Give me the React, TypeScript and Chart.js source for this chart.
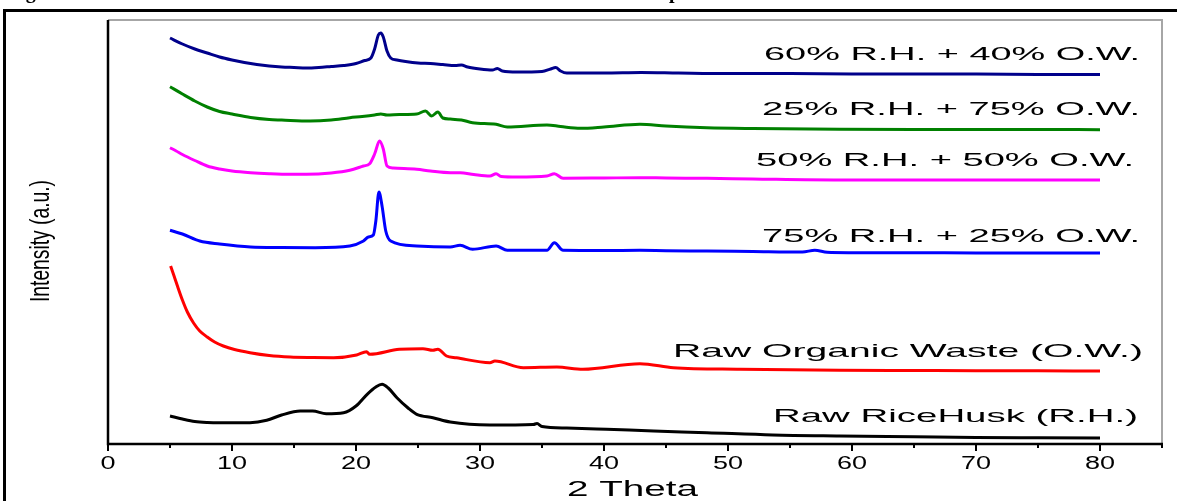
import React, { useEffect, useRef } from "react";
import { Chart, registerables } from "chart.js";

Chart.register(...registerables);

// ---------- DATA (2θ in degrees, intensity in arbitrary units) ----------
const X_TICKS = [0, 10, 20, 30, 40, 50, 60, 70, 80];
const X_TITLE = "2 Theta";
const Y_TITLE = "Intensity (a.u.)";

const SERIES_NAMES = [
  "60% R.H. + 40% O.W.",
  "25% R.H. + 75% O.W.",
  "50% R.H. + 50% O.W.",
  "75% R.H. + 25% O.W.",
  "Raw Organic Waste (O.W.)",
  "Raw RiceHusk (R.H.)",
];
const SERIES_COLORS = ["#00008B", "#008000", "#FF00FF", "#0000FF", "#FF0000", "#000000"];

const theta60 = [5, 6, 7, 8, 9, 10, 11, 12, 13, 14, 15, 16, 17, 18, 19, 20, 20.7, 21.2, 21.5, 21.8, 22.0, 22.2, 22.5, 22.8, 23.3, 24, 25, 26, 27, 28, 28.5, 29, 30, 31, 31.4, 31.8, 33, 35, 35.7, 36.1, 36.5, 37, 40, 43, 46, 50, 55, 60, 65, 70, 75, 80];
const int60 = [406, 400, 395, 391, 387, 384, 381.5, 379.5, 378, 377, 376.5, 376, 376.5, 377.5, 378.5, 380.5, 383.5, 386, 395, 409, 411, 407, 393, 386, 384, 382.5, 381, 380.5, 379.5, 378.5, 379, 377, 375, 374, 375.5, 373, 372, 372.5, 375, 376.5, 373, 371, 371, 371.5, 371, 370.5, 370.5, 370, 370, 370, 369.5, 369.5];

const theta25 = [5, 6, 7, 8, 9, 10, 11.5, 13, 14, 16.3, 18, 19.5, 20.5, 21.5, 22, 22.5, 23.5, 24.9, 25.6, 26.1, 26.6, 27.0, 27.6, 28.5, 29.4, 31.3, 32.2, 35.4, 36.5, 38.1, 40, 42.9, 45, 48.3, 52, 59, 65, 70, 75, 80];
const int25 = [357.3, 350, 343, 337, 332.5, 330, 326.5, 324.5, 324, 323, 324, 326.3, 327.5, 329, 330, 329, 329.5, 330, 333, 328, 332, 326, 325, 324, 321.3, 319.7, 317, 319, 317.5, 315.7, 317, 319.7, 318, 316.3, 315.5, 314.7, 314.5, 314.5, 314.5, 314.3];

const theta50 = [5, 5.5, 6, 7, 8, 9, 10, 11.5, 13, 14.7, 16, 18, 19.5, 20.6, 21.1, 21.5, 21.9, 22.2, 22.5, 23, 24.9, 26, 27.6, 28.4, 29.5, 30.8, 31.3, 31.7, 33, 35.4, 36.0, 36.7, 40, 42.9, 45, 48.3, 52, 59, 65, 70, 75, 80];
const int50 = [296.3, 293, 289.5, 283.5, 278, 275, 273, 271.3, 270.3, 269.7, 269.7, 271, 273.7, 278, 280.3, 290, 303, 295, 278, 276, 274.7, 273, 271.3, 271.3, 269.5, 268, 270.3, 267.5, 267, 268, 270.3, 265.7, 266, 266.3, 266, 265.7, 265, 264, 264, 264, 264, 264];

const theta75 = [5, 6, 7.4, 9, 11.5, 14, 16.7, 19.5, 20.6, 21.0, 21.4, 21.6, 21.85, 22.1, 22.4, 22.8, 24.9, 27.6, 28.4, 29.4, 31.3, 32.2, 35.4, 36.0, 36.7, 40, 42.9, 45, 48.3, 52, 56, 57, 58, 60, 65, 70, 75, 80];
const int75 = [213.7, 210, 203, 200, 197, 196.5, 196.3, 198, 203, 207, 209, 223, 252, 238, 213, 203, 198, 197, 198.7, 194.7, 198, 193.7, 193.7, 201.3, 193.7, 193.5, 193.7, 193.3, 193, 192.5, 192, 193.7, 191.7, 191.3, 191.2, 191.1, 191, 191];

const thetaOW = [5.05, 5.3, 5.6, 6.0, 6.4, 6.9, 7.4, 8, 8.6, 9.3, 10.2, 11.45, 13, 14.7, 16.5, 18.2, 20.05, 20.85, 21.1, 23.5, 25.4, 26.2, 26.6, 27.3, 28.1, 30.8, 31.2, 33.5, 36.2, 38.3, 42.9, 45.6, 51, 59, 65, 70, 75, 80];
const intOW = [178, 169, 158, 144, 132, 121, 113, 107, 102, 98, 94.5, 91.3, 88.5, 87, 86.5, 86.3, 89, 92.3, 89.7, 94.7, 95.3, 93.7, 94.7, 88, 86.3, 81.3, 83, 76.3, 77, 74.7, 80.3, 76.3, 74.7, 73.7, 73.5, 73.3, 73.2, 73];

const thetaRH = [5, 6, 7, 8, 9, 11.45, 12.8, 14, 15.5, 16.5, 17.6, 19, 20, 20.9, 21.6, 22.1, 22.6, 23.3, 24.2, 24.9, 26.2, 27.6, 30.8, 34.3, 34.6, 35, 37, 40.2, 44, 48.3, 53.6, 59, 65, 70, 75, 80];
const intRH = [28, 25, 22.5, 21.5, 21.2, 21.3, 23.7, 29, 33, 33, 30.3, 31.3, 38, 49.7, 57, 59.7, 56, 46.3, 36, 29.7, 26.3, 22, 19, 19.5, 20.5, 17.5, 16, 14.7, 13, 11.3, 9, 8, 7.2, 6.5, 6.2, 6];

const SERIES_X = [theta60, theta25, theta50, theta75, thetaOW, thetaRH];
const SERIES_Y = [int60, int25, int50, int75, intOW, intRH];

// ---------- label layout (pixels) ----------
const LABEL_LAYOUT = [
  { left: 764, right: 1140, y: 55 },
  { left: 762, right: 1140, y: 110 },
  { left: 756, right: 1134, y: 161 },
  { left: 762, right: 1140, y: 237 },
  { left: 673, right: 1143, y: 352 },
  { left: 773, right: 1138, y: 417 },
];

const FONT = "Arial, 'Liberation Sans', sans-serif";

function stretchText(ctx: CanvasRenderingContext2D, text: string, left: number, y: number, font: string, width: number) {
  ctx.save();
  ctx.font = font;
  ctx.textAlign = "left";
  ctx.textBaseline = "middle";
  const w = ctx.measureText(text).width;
  ctx.translate(left, y);
  ctx.scale(width / w, 1);
  ctx.fillText(text, 0, 0);
  ctx.restore();
}

const decorPlugin = {
  id: "decor",
  beforeDraw(chart: any) {
    const ctx = chart.ctx;
    ctx.save();
    ctx.fillStyle = "#ffffff";
    ctx.fillRect(0, 0, chart.width, chart.height);
    ctx.restore();
  },
  afterDraw(chart: any) {
    const ctx: CanvasRenderingContext2D = chart.ctx;
    const { left, right, top, bottom } = chart.chartArea;
    const xs = chart.scales.x;
    ctx.save();

    // page title remnants (clipped at top)
    ctx.fillStyle = "#000";
    ctx.font = "bold 20px 'Liberation Serif', 'Times New Roman', serif";
    ctx.textBaseline = "alphabetic";
    ctx.textAlign = "left";
    ctx.fillText("Figure", 8, -2.5);
    ctx.fillText("p", 669, -2.5);

    // outer frame
    ctx.strokeStyle = "#000";
    ctx.lineWidth = 3;
    ctx.beginPath();
    ctx.moveTo(4.5, chart.height + 2);
    ctx.lineTo(4.5, 10.5);
    ctx.lineTo(chart.width + 2, 10.5);
    ctx.stroke();

    // plot frame (top/right gray)
    ctx.strokeStyle = "#a6a6a6";
    ctx.lineWidth = 2;
    ctx.beginPath();
    ctx.moveTo(left, top);
    ctx.lineTo(right, top);
    ctx.lineTo(right, bottom);
    ctx.stroke();

    // left & bottom axes
    ctx.strokeStyle = "#000";
    ctx.lineWidth = 2.5;
    ctx.beginPath();
    ctx.moveTo(left, top);
    ctx.lineTo(left, bottom);
    ctx.lineTo(right + 1, bottom);
    ctx.stroke();

    // ticks
    ctx.lineWidth = 2;
    for (let v = 0; v <= 85; v += 5) {
      const px = xs.getPixelForValue(v);
      const len = v % 10 === 0 ? 7 : 4;
      ctx.beginPath();
      ctx.moveTo(px, bottom);
      ctx.lineTo(px, bottom + len);
      ctx.stroke();
    }

    // tick labels
    ctx.fillStyle = "#000";
    ctx.font = `18px ${FONT}`;
    ctx.textAlign = "center";
    ctx.textBaseline = "middle";
    X_TICKS.forEach((v) => {
      const px = xs.getPixelForValue(v);
      ctx.save();
      ctx.translate(px, 464);
      ctx.scale(1.5, 1);
      ctx.fillText(String(v), 0, 0);
      ctx.restore();
    });

    // x title
    stretchText(ctx, X_TITLE, 567, 490, `22px ${FONT}`, 131);

    // y title (rotated)
    ctx.save();
    ctx.font = `19px ${FONT}`;
    ctx.textAlign = "center";
    ctx.textBaseline = "middle";
    const yw = ctx.measureText(Y_TITLE).width;
    ctx.translate(41, 241);
    ctx.rotate(-Math.PI / 2);
    ctx.scale(122 / yw, 1.5);
    ctx.fillText(Y_TITLE, 0, 0);
    ctx.restore();

    // series labels
    ctx.fillStyle = "#000";
    SERIES_NAMES.forEach((name, i) => {
      const L = LABEL_LAYOUT[i];
      stretchText(ctx, name, L.left, L.y, `19px ${FONT}`, L.right - L.left);
    });

    ctx.restore();
  },
};

export default function App() {
  const ref = useRef<HTMLCanvasElement | null>(null);

  useEffect(() => {
    if (!ref.current) return;
    const datasets = SERIES_NAMES.map((name, i) => ({
      label: name,
      data: SERIES_X[i].map((x, j) => ({ x, y: SERIES_Y[i][j] })),
      borderColor: SERIES_COLORS[i],
      backgroundColor: SERIES_COLORS[i],
      borderWidth: 3,
      pointRadius: 0,
      fill: false,
      cubicInterpolationMode: "monotone" as const,
    }));
    const chart = new Chart(ref.current, {
      type: "line",
      data: { datasets },
      options: {
        responsive: false,
        animation: false,
        layout: { padding: { left: 108, top: 20, right: 15, bottom: 57 } },
        plugins: { legend: { display: false }, tooltip: { enabled: false } },
        scales: {
          x: { type: "linear", min: 0, max: 85, display: false },
          y: { type: "linear", min: 0, max: 424, display: false },
        },
      },
      plugins: [decorPlugin],
    });
    return () => chart.destroy();
  }, []);

  return (
    <div style={{ position: "fixed", left: 0, top: 0, width: 1177, height: 501, background: "#fff" }}>
      <canvas ref={ref} width={1177} height={501} />
    </div>
  );
}
